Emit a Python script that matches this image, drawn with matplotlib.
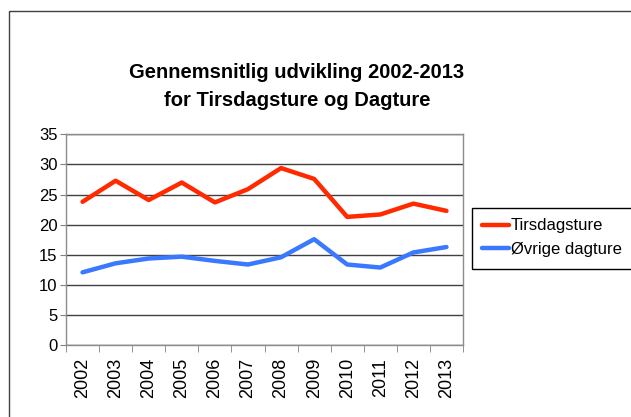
import matplotlib.pyplot as plt
from matplotlib.patches import Rectangle
from matplotlib.ticker import FixedLocator

plt.rcParams['font.family'] = ['Liberation Sans', 'DejaVu Sans']

aar = ['2002', '2003', '2004', '2005', '2006', '2007', '2008', '2009', '2010', '2011', '2012', '2013']
tirsdagsture = [23.8, 27.3, 24.1, 27.0, 23.7, 25.9, 29.4, 27.6, 21.3, 21.7, 23.5, 22.3]
oevrige_dagture = [12.1, 13.6, 14.4, 14.7, 14.0, 13.4, 14.6, 17.6, 13.4, 12.9, 15.4, 16.3]

fig = plt.figure(figsize=(6.31, 4.17), dpi=100)

# ramme om hele diagrammet (skaares af i hoejre og nederste kant)
fig.patches.append(Rectangle((9 / 631, -0.1), 1.2, 1 - 11 / 417 + 0.1, transform=fig.transFigure,
                             fill=False, edgecolor='#404040', linewidth=1.0))

ax = fig.add_axes([66 / 631, 1 - 345.3 / 417, 397 / 631, 211 / 417])
x = list(range(len(aar)))
ax.plot(x, tirsdagsture, color='#ff2a00', linewidth=3.2, label='Tirsdagsture', solid_capstyle='round')
ax.plot(x, oevrige_dagture, color='#3a78ff', linewidth=3.2, label='Øvrige dagture', solid_capstyle='round')

ax.set_xlim(-0.5, len(aar) - 0.5)
ax.set_ylim(0, 35)
ax.set_yticks(range(0, 36, 5))
ax.tick_params(axis='y', labelsize=12, length=4, color='#808080', pad=2)
ax.set_xticks(x)
ax.set_xticklabels(aar, rotation=90, fontsize=13)
ax.tick_params(axis='x', which='major', length=0, pad=9)
ax.xaxis.set_minor_locator(FixedLocator([i - 0.5 for i in range(len(aar) + 1)]))
ax.tick_params(axis='x', which='minor', length=5, color='#808080')
ax.grid(axis='y', color='#404040', linewidth=1.0)
ax.set_axisbelow(True)
for s in ax.spines.values():
    s.set_color('#8c8c8c')
    s.set_linewidth(1.0)

fig.text(297 / 631, 1 - 73 / 417, 'Gennemsnitlig udvikling 2002-2013', ha='center', va='center',
         fontsize=14.5, fontweight='bold')
fig.text(297 / 631, 1 - 101 / 417, 'for Tirsdagsture og Dagture', ha='center', va='center',
         fontsize=14.5, fontweight='bold')

leg = fig.legend(loc='upper left', bbox_to_anchor=(474 / 631, 1 - 210 / 417), fontsize=12,
                 frameon=False, handlelength=1.6, handletextpad=0.1,
                 borderpad=0.5, labelspacing=0.5, borderaxespad=0)

# legendens ramme gaar ud over hoejre kant
fig.patches.append(Rectangle((472 / 631, 1 - 269 / 417), 0.5, 61 / 417, transform=fig.transFigure,
                             fill=False, edgecolor='black', linewidth=1.0))

plt.savefig('out.png', dpi=100)
